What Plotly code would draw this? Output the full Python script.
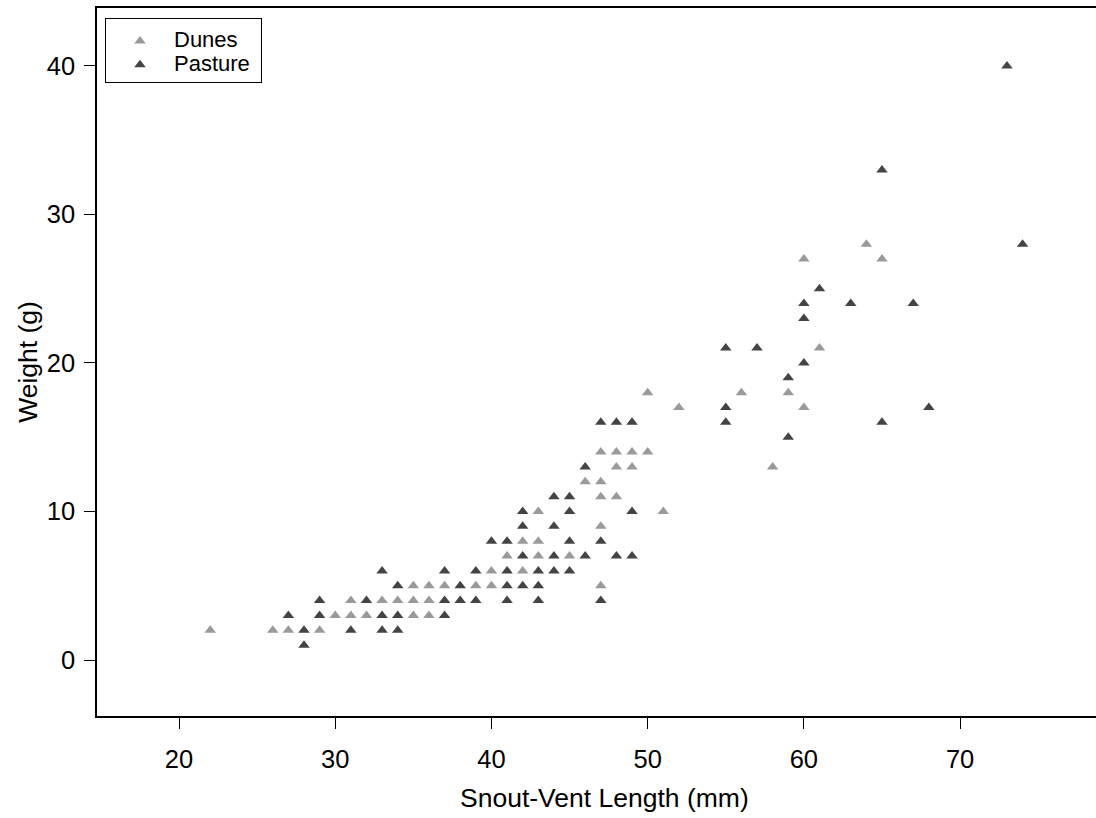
import plotly.graph_objects as go

dunes_x = [22, 26, 27, 29,
           30, 31, 32, 35, 36,
           31, 33, 34, 35, 36,
           35, 36, 37, 39, 40, 47,
           40, 42,
           41, 43, 45,
           42, 43,
           47,
           43, 51,
           47, 48,
           46, 47,
           48, 49, 58,
           47, 48, 49, 50,
           52, 60,
           50, 56, 59,
           61,
           60, 65, 64]
dunes_y = [2, 2, 2, 2,
           3, 3, 3, 3, 3,
           4, 4, 4, 4, 4,
           5, 5, 5, 5, 5, 5,
           6, 6,
           7, 7, 7,
           8, 8,
           9,
           10, 10,
           11, 11,
           12, 12,
           13, 13, 13,
           14, 14, 14, 14,
           17, 17,
           18, 18, 18,
           21,
           27, 27, 28]

pasture_x = [28,
             28, 31, 33, 34,
             27, 29, 33, 34, 37,
             29, 32, 37, 38, 39, 41, 43, 47,
             34, 38, 41, 42, 43,
             33, 37, 39, 41, 43, 44, 45,
             42, 44, 46, 48, 49,
             40, 41, 45, 47,
             42, 44,
             42, 45, 49,
             44, 45,
             46,
             59,
             47, 48, 49, 55, 65,
             55, 68,
             59,
             60,
             55, 57,
             60,
             60, 63, 67,
             61,
             74,
             65,
             73]
pasture_y = [1,
             2, 2, 2, 2,
             3, 3, 3, 3, 3,
             4, 4, 4, 4, 4, 4, 4, 4,
             5, 5, 5, 5, 5,
             6, 6, 6, 6, 6, 6, 6,
             7, 7, 7, 7, 7,
             8, 8, 8, 8,
             9, 9,
             10, 10, 10,
             11, 11,
             13,
             15,
             16, 16, 16, 16, 16,
             17, 17,
             19,
             20,
             21, 21,
             23,
             24, 24, 24,
             25,
             28,
             33,
             40]

x_ticks = [20, 30, 40, 50, 60, 70]
y_ticks = [0, 10, 20, 30, 40]
series_names = ["Dunes", "Pasture"]
x_title = "Snout-Vent Length (mm)"
y_title = "Weight (g)"

FONT = "Liberation Sans, Arial, sans-serif"


def legend_label(s):
    return "<span style='font-size:22px'>" + s + "&nbsp;</span>"


fig = go.Figure()
fig.add_trace(go.Scatter(x=dunes_x, y=dunes_y, mode="markers", name=legend_label(series_names[0]),
                         marker=dict(symbol="triangle-up", size=10, color="#9a9a9a")))
fig.add_trace(go.Scatter(x=pasture_x, y=pasture_y, mode="markers", name=legend_label(series_names[1]),
                         marker=dict(symbol="triangle-up", size=10, color="#444444")))

axis_common = dict(showgrid=False, zeroline=False, showline=True, linecolor="black",
                   linewidth=1.5, ticks="outside", ticklen=11, tickwidth=1,
                   tickcolor="black", automargin=False,
                   tickfont=dict(size=25.5, color="black", family=FONT))

fig.update_layout(
    width=1096, height=818,
    margin=dict(l=97, r=0, t=8, b=102),
    plot_bgcolor="white", paper_bgcolor="white",
    font=dict(family=FONT, color="black"),
    xaxis=dict(range=[14.75, 78.7], tickvals=x_ticks, mirror=True, ticklabelstandoff=9,
               **axis_common),
    yaxis=dict(range=[-3.77, 43.9], tickvals=y_ticks, ticklabelstandoff=4,
               title=dict(text=y_title, font=dict(size=26.5), standoff=2),
               **axis_common),
    legend=dict(x=0.008, y=0.986, xanchor="left", yanchor="top",
                bordercolor="black", borderwidth=1, bgcolor="white",
                font=dict(size=16, color="black", family=FONT),
                title=dict(text="&nbsp;", font=dict(size=4)),
                itemwidth=58),
    showlegend=True,
    annotations=[dict(text=x_title, xref="paper", yref="paper", x=0.5085, y=-0.1158,
                      xanchor="center", yanchor="middle", showarrow=False,
                      font=dict(size=26.5, color="black", family=FONT))],
)

fig.write_html("out.html", config={"displayModeBar": False},
               post_script="document.body.style.margin='0px';document.body.style.overflow='hidden';")
